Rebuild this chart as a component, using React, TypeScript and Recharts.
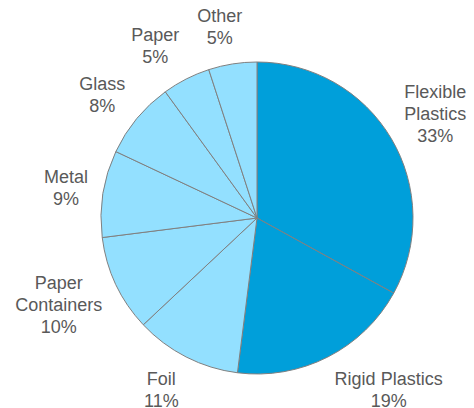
import { PieChart, Pie, Cell } from "recharts";

const materials = ["Flexible Plastics", "Rigid Plastics", "Foil", "Paper Containers", "Metal", "Glass", "Paper", "Other"];
const labelLines = [["Flexible", "Plastics"], ["Rigid Plastics"], ["Foil"], ["Paper", "Containers"], ["Metal"], ["Glass"], ["Paper"], ["Other"]];
const shares = [33, 19, 11, 10, 9, 8, 5, 5];
const plastic = [true, true, false, false, false, false, false, false];

const DARK = "#009FDA";
const LIGHT = "#93E0FF";
const FONT = 18;
const LINE = 22;

const data = materials.map((name, i) => ({ name, value: shares[i] }));

// rough width of Arial text, good enough to place the label box
const CHAR_W: Record<string, number> = {
  F: 0.611, l: 0.222, e: 0.556, x: 0.5, i: 0.222, b: 0.556, P: 0.667, a: 0.556, s: 0.5, t: 0.278,
  c: 0.5, R: 0.722, g: 0.556, d: 0.556, " ": 0.278, o: 0.556, C: 0.722, n: 0.556, r: 0.333,
  M: 0.833, G: 0.778, p: 0.556, O: 0.778, h: 0.556, "%": 0.889,
};
function textWidth(s: string) {
  let w = 0;
  for (const ch of s) w += (CHAR_W[ch] ?? 0.556) * FONT;
  return w;
}

function renderLabel(props: any) {
  const { cx, cy, midAngle, outerRadius, index, value } = props;
  const rad = (midAngle * Math.PI) / 180;
  const cos = Math.cos(rad);
  const sin = Math.sin(rad);
  const lines = [...labelLines[index], `${value}%`];
  const w = Math.max(...lines.map(textWidth));
  const h = lines.length * LINE;
  const r = outerRadius + 15;
  const ax = cx + r * cos;
  const ay = cy - r * sin;
  const shift = Math.max(-1, Math.min(1, cos * 3));
  const bx = ax + shift * (w / 2);
  const by = ay - sin * (h / 2);
  const firstBase = by - ((lines.length - 1) * LINE) / 2 + 6;
  return (
    <text x={bx} y={firstBase} textAnchor="middle" fill="#595959" fontSize={FONT} fontFamily="'Liberation Sans', Arial, sans-serif">
      {lines.map((ln, k) => (
        <tspan key={k} x={bx} y={firstBase + k * LINE}>
          {ln}
        </tspan>
      ))}
    </text>
  );
}

export default function App() {
  return (
    <div style={{ position: "absolute", left: 0, top: 0, width: 474, height: 408, background: "#fff" }}>
      <PieChart width={474} height={408} margin={{ top: 0, right: 0, bottom: 0, left: 0 }}>
        <Pie
          data={data}
          dataKey="value"
          nameKey="name"
          cx={257}
          cy={218}
          outerRadius={156}
          startAngle={90}
          endAngle={-270}
          stroke="#808080"
          strokeWidth={1}
          label={renderLabel}
          labelLine={false}
          isAnimationActive={false}
        >
          {data.map((d, i) => (
            <Cell key={d.name} fill={plastic[i] ? DARK : LIGHT} />
          ))}
        </Pie>
      </PieChart>
    </div>
  );
}
